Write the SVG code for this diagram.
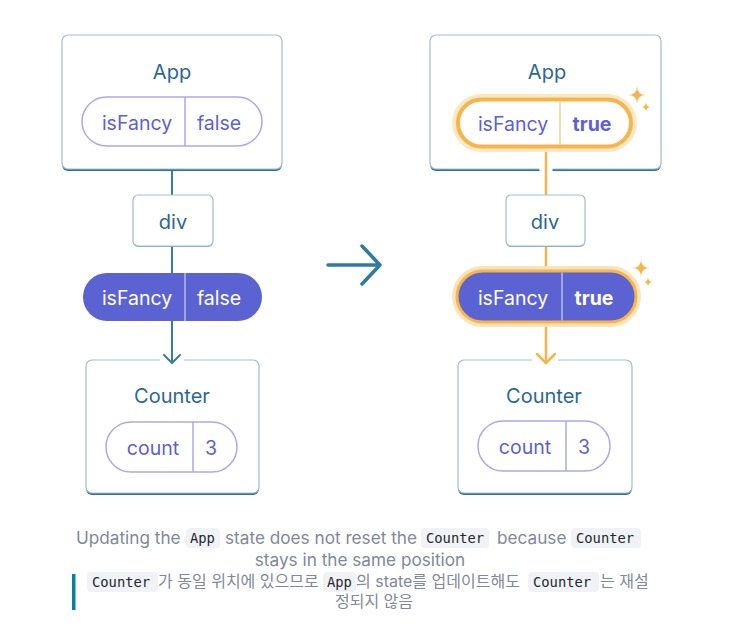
<svg xmlns="http://www.w3.org/2000/svg" width="733" height="642" viewBox="0 0 733 642">
<defs>
<style>
.box{fill:#fff;stroke:#9fbdd4;stroke-width:1.2}
.shadow{fill:#2f6f98}
.title{font-family:Inter,"Liberation Sans",sans-serif;font-size:20px;fill:#2a6894;text-anchor:middle}
.pill{fill:#fff;stroke:#aaa8ee;stroke-width:1.5}
.ptxt{font-family:Inter,"Liberation Sans",sans-serif;font-size:19.5px;fill:#5c5fd6;text-anchor:middle}
.wtxt{font-family:Inter,"Liberation Sans",sans-serif;font-size:19.5px;fill:#fff;text-anchor:middle}
.bold{font-weight:700}
.fill{fill:#5b63d3}
.conn{fill:none;stroke:#3a7ba5;stroke-width:2}
.oconn{fill:none;stroke:#f8b44c;stroke-width:2.5}
.star{fill:#f8b44c}
.cap{font-family:Inter,"Noto Sans","Noto Sans CJK KR",sans-serif;font-size:17.2px;fill:#7f889d}
.kr{font-family:Inter,"Noto Sans","Noto Sans CJK KR",sans-serif;font-size:16px;fill:#7f889d}
.chip{fill:#f1f2f5}
.code{font-family:"DejaVu Sans Mono","Liberation Mono",monospace;font-size:13.8px;fill:#23272f}
</style>
</defs>

<g id="connectors">
<line class="conn" x1="172" y1="169" x2="172" y2="195"/>
<line class="conn" x1="172" y1="246" x2="172" y2="273"/>
<line class="conn" x1="172" y1="321" x2="172" y2="362"/>
<path d="M328,265 H380 M362,246 L380,265 L362,284" fill="none" stroke="#2e7aa5" stroke-width="3.5" stroke-linecap="round" stroke-linejoin="round"/>
</g>

<g id="app-left">
<rect class="shadow" x="62" y="37" width="220" height="134" rx="6"/>
<rect class="box" x="62" y="35" width="220" height="134" rx="6"/>
<text class="title" x="172" y="79">App</text>
<rect class="pill" x="82" y="97" width="180" height="49" rx="24.5"/>
<line x1="185" y1="97" x2="185" y2="146" stroke="#aaa8ee" stroke-width="1.5"/>
<text class="ptxt" x="137" y="130">isFancy</text>
<text class="ptxt" x="219" y="130">false</text>
</g>

<g id="div-left">
<rect class="shadow" x="133" y="196" width="80" height="51" rx="5" style="fill:#7ea4c0"/>
<rect class="box" x="133" y="195" width="80" height="51" rx="5"/>
<text class="title" x="173" y="229">div</text>
</g>

<g id="state-left">
<rect class="fill" x="83" y="273" width="179" height="48" rx="24"/>
<line x1="185" y1="273" x2="185" y2="321" stroke="#b4b8ef" stroke-width="1.5"/>
<text class="wtxt" x="137" y="305">isFancy</text>
<text class="wtxt" x="219" y="305">false</text>
</g>

<g id="counter-left">
<rect class="shadow" x="86" y="362" width="173" height="133" rx="6"/>
<rect class="box" x="86" y="360" width="173" height="133" rx="6"/>
<rect x="160" y="357" width="24" height="6" fill="#fff"/>
<line class="conn" x1="172" y1="352" x2="172" y2="363"/>
<path class="conn" d="M164,355 L172,363 L180,355" stroke-linecap="round"/>
<text class="title" x="172" y="403">Counter</text>
<rect class="pill" x="106" y="422" width="131" height="50" rx="25"/>
<line x1="193" y1="422" x2="193" y2="472" stroke="#aaa8ee" stroke-width="1.5"/>
<text class="ptxt" x="153" y="455">count</text>
<text class="ptxt" x="211" y="455">3</text>
</g>

<g id="app-right">
<rect class="shadow" x="430" y="37" width="231" height="134" rx="6"/>
<rect class="box" x="430" y="35" width="231" height="134" rx="6"/>
<text class="title" x="547" y="79">App</text>
<line x1="546" y1="150" x2="546" y2="176" stroke="#fff" stroke-width="13"/>
<line class="oconn" x1="546" y1="150" x2="546" y2="195"/>
<rect x="452" y="94" width="185" height="58" rx="29" fill="#fde8c4"/>
<rect x="458" y="99.5" width="173" height="47" rx="23.5" fill="#fff" stroke="#f8b44c" stroke-width="4"/>
<line x1="560" y1="101" x2="560" y2="145" stroke="#f9cf8f" stroke-width="1.5"/>
<text class="ptxt" x="513" y="131">isFancy</text>
<text class="ptxt bold" x="592" y="131">true</text>
<path class="star" d="M637,86 Q637,95 646,95 Q637,95 637,104 Q637,95 628,95 Q637,95 637,86 Z"/>
<path class="star" d="M646,102 Q646,107 651,107 Q646,107 646,112 Q646,107 641,107 Q646,107 646,102 Z"/>
</g>

<g id="div-right">
<line class="oconn" x1="546" y1="246" x2="546" y2="271"/>
<rect class="shadow" x="506" y="196" width="79" height="51" rx="5" style="fill:#7ea4c0"/>
<rect class="box" x="506" y="195" width="79" height="51" rx="5"/>
<text class="title" x="545" y="229">div</text>
</g>

<g id="state-right">
<rect x="452" y="266" width="189" height="61" rx="30.5" fill="#fde3b5"/>
<rect class="fill" x="457" y="271" width="179" height="51" rx="25.5" stroke="#f8b44c" stroke-width="3"/>
<line x1="562" y1="272.5" x2="562" y2="320.5" stroke="#b8bcf0" stroke-width="1.5"/>
<text class="wtxt" x="513" y="305">isFancy</text>
<text class="wtxt bold" x="594" y="305">true</text>
<path class="star" d="M641,259 Q641,268 650,268 Q641,268 641,277 Q641,268 632,268 Q641,268 641,259 Z"/>
<path class="star" d="M648,277 Q648,282 653,282 Q648,282 648,287 Q648,282 643,282 Q648,282 648,277 Z"/>
</g>

<g id="counter-right">
<rect class="shadow" x="458" y="362" width="174" height="133" rx="6"/>
<rect class="box" x="458" y="360" width="174" height="133" rx="6"/>
<rect x="532" y="357" width="26" height="6" fill="#fff"/>
<line class="oconn" x1="546" y1="327" x2="546" y2="363"/>
<path class="oconn" d="M537,354 L546,363 L555,354" stroke-linecap="round" stroke-linejoin="round"/>
<text class="title" x="544" y="403">Counter</text>
<rect class="pill" x="478" y="421" width="132" height="50" rx="25"/>
<line x1="566" y1="421" x2="566" y2="471" stroke="#aaa8ee" stroke-width="1.5"/>
<text class="ptxt" x="525" y="454">count</text>
<text class="ptxt" x="584" y="454">3</text>
</g>

<g id="caption">
<rect class="chip" x="186" y="528" width="34" height="20" rx="4"/>
<rect class="chip" x="421" y="528" width="68" height="20" rx="4"/>
<rect class="chip" x="571" y="528" width="70" height="20" rx="4"/>
<text class="cap" x="76" y="544">Updating the</text>
<text class="code" x="190" y="543">App</text>
<text class="cap" x="225" y="544">state does not reset the</text>
<text class="code" x="426" y="543">Counter</text>
<text class="cap" x="497" y="544">because</text>
<text class="code" x="576" y="543">Counter</text>
<text class="cap" x="360" y="566" text-anchor="middle">stays in the same position</text>
<rect x="72" y="574" width="3.5" height="36" fill="#087ea4"/>
<rect class="chip" x="87" y="572" width="71" height="20" rx="4"/>
<rect class="chip" x="323" y="572" width="33" height="20" rx="4"/>
<rect class="chip" x="528" y="572" width="71" height="20" rx="4"/>
<text class="code" x="92" y="587">Counter</text>
<text class="kr" x="158" y="587">가 동일 위치에 있으므로</text>
<text class="code" x="327" y="587">App</text>
<text class="kr" x="356" y="587">의 state를 업데이트해도</text>
<text class="code" x="533" y="587">Counter</text>
<text class="kr" x="600" y="587">는 재설</text>
<text class="kr" x="374" y="607" text-anchor="middle">정되지 않음</text>
</g>
</svg>
